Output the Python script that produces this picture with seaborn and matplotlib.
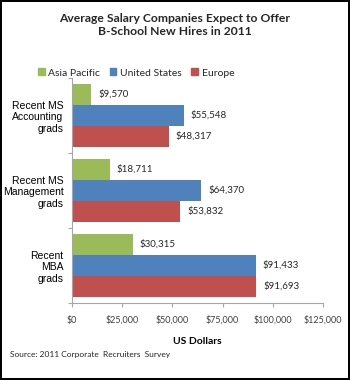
import matplotlib
matplotlib.use("Agg")
import matplotlib.pyplot as plt
import seaborn as sns
import pandas as pd
from matplotlib.ticker import FuncFormatter, FixedLocator

categories = ["Recent MS\nAccounting\ngrads", "Recent MS\nManagement\ngrads", "Recent\nMBA\ngrads"]
regions = ["Asia Pacific", "United States", "Europe"]
asia_pacific = [9570, 18711, 30315]
united_states = [55548, 64370, 91433]
europe = [48317, 53832, 91693]
x_ticks = [0, 25000, 50000, 75000, 100000, 125000]

rows = []
for reg, vals in zip(regions, [asia_pacific, united_states, europe]):
    for c, v in zip(categories, vals):
        rows.append({"category": c, "region": reg, "salary": v})
df = pd.DataFrame(rows)

sns.set_theme(style="white")
plt.rcParams["font.family"] = ["Lato", "DejaVu Sans"]

colors = {"Asia Pacific": "#9BBB59", "United States": "#4F81BD", "Europe": "#C0504D"}

fig = plt.figure(figsize=(3.5, 3.8), dpi=100)
fig.patch.set_facecolor("white")
fig.patch.set_edgecolor("black")
fig.patch.set_linewidth(1.5)
ax = fig.add_axes([72/350, 1-303/380, (323-72)/350, (303-78)/380])

sns.barplot(data=df, y="category", x="salary", hue="region", order=categories,
            hue_order=regions, palette=colors, width=0.84, ax=ax, legend=False,
            saturation=1, orient="h", edgecolor="none")

for cont in ax.containers:
    labels = [f"${v:,.0f}" for v in cont.datavalues]
    ax.bar_label(cont, labels=labels, padding=5, fontsize=7, color="#262626")

ax.set_xlim(0, 125000)
ax.set_ylim(2.5, -0.5)
ax.xaxis.set_major_locator(FixedLocator(x_ticks))
ax.xaxis.set_major_formatter(FuncFormatter(lambda v, p: f"${v:,.0f}"))
ax.set_xlabel("US Dollars", fontsize=7.5, fontweight="bold", labelpad=9, color="black")
ax.set_ylabel("")

for lab in ax.get_xticklabels():
    lab.set_fontsize(6.5)
    lab.set_color("#404040")
for lab in ax.get_yticklabels():
    lab.set_fontsize(7.5)
    lab.set_family(["Liberation Sans", "DejaVu Sans"])
    lab.set_color("black")
    lab.set_horizontalalignment("right")

ax.yaxis.set_minor_locator(FixedLocator([-0.5, 0.5, 1.5, 2.5]))
ax.tick_params(axis="y", which="major", length=0, pad=6)
ax.tick_params(axis="y", which="minor", length=3, color="#A6A6A6", width=0.8, left=True)
ax.tick_params(axis="x", which="major", length=3, color="#A6A6A6", width=0.8, bottom=True, pad=6)

for s in ["top", "right"]:
    ax.spines[s].set_visible(False)
for s in ["left", "bottom"]:
    ax.spines[s].set_color("#A6A6A6")
    ax.spines[s].set_linewidth(0.8)

fig.text(0.5, 1-25/380, "Average Salary Companies Expect to Offer\nB-School New Hires in 2011",
         ha="center", va="center", fontsize=8.7, fontweight="bold", linespacing=1.3)

handles = [plt.Rectangle((0, 0), 1, 1, color=colors[r]) for r in regions]
fig.legend(handles, regions, loc="center left", bbox_to_anchor=(38/350, 1-73/380), ncol=3,
           frameon=False, fontsize=7.5, handlelength=0.65, handleheight=0.65,
           handletextpad=0.35, columnspacing=0.9, borderaxespad=0, borderpad=0)

fig.text(10/350, 1-355/380, "Source: 2011 Corporate  Recruiters  Survey", fontsize=6,
         ha="left", va="center", color="#262626")

fig.savefig("out.png", dpi=100, facecolor=fig.get_facecolor(), edgecolor=fig.get_edgecolor())
